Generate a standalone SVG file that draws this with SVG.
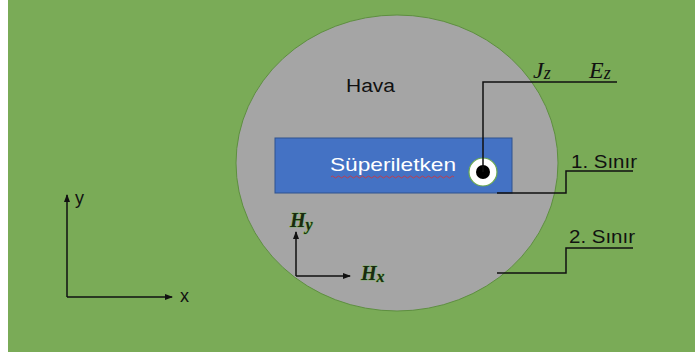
<svg xmlns="http://www.w3.org/2000/svg" width="695" height="352" viewBox="0 0 695 352">
<defs>
<style>
.lbl{font-family:"Liberation Sans","Open Sans",sans-serif;font-size:18px;fill:#111}
.math{font-family:"Liberation Serif","DejaVu Serif",serif;font-style:italic;fill:#111}
.hm{font-family:"Liberation Serif","DejaVu Serif",serif;font-style:italic;font-weight:bold;fill:#1a2a10;stroke:#5fb53a;stroke-width:0.7;paint-order:stroke}
.ln{fill:none;stroke:#111;stroke-width:1.5}
</style>
<marker id="ah" markerWidth="8" markerHeight="8" refX="7" refY="4" orient="auto" markerUnits="userSpaceOnUse">
<path d="M0,1 L8,4 L0,7 Z" fill="#111"/>
</marker>
</defs>
<rect x="0" y="0" width="695" height="352" fill="#ffffff"/>
<rect x="8" y="0" width="687" height="352" fill="#7aab57"/>
<g id="hava">
<ellipse cx="397" cy="163" rx="161" ry="148" fill="#a5a5a5" stroke="#5e8f40" stroke-width="1"/>
<text class="lbl" x="346" y="92" font-size="18" textLength="49" lengthAdjust="spacingAndGlyphs">Hava</text>
</g>
<g id="superiletken">
<rect x="275" y="138" width="237" height="55" fill="#4472c4" stroke="#2f528f" stroke-width="1"/>
<text x="330" y="171" textLength="126" lengthAdjust="spacingAndGlyphs" style="font-family:'Liberation Sans','Open Sans',sans-serif;font-size:19px;fill:#ffffff">Süperiletken</text>
<path d="M331,177 q1.5,-2 3,0 t3,0 t3,0 t3,0 t3,0 t3,0 t3,0 t3,0 t3,0 t3,0 t3,0 t3,0 t3,0 t3,0 t3,0 t3,0 t3,0 t3,0 t3,0 t3,0 t3,0 t3,0 t3,0 t3,0 t3,0 t3,0 t3,0 t3,0 t3,0 t3,0 t3,0 t3,0 t3,0 t3,0 t3,0 t3,0 t3,0 t3,0 t3,0 t3,0 t3,0" fill="none" stroke="#e03030" stroke-width="0.8"/>
</g>
<g id="kaynak">
<circle cx="483" cy="172" r="14" fill="#ffffff" stroke="#6aa84f" stroke-width="1.2"/>
<circle cx="483" cy="172" r="7" fill="#000000"/>
</g>
<g id="connectors">
<polyline class="ln" points="483,172 483,82 617,82"/>
<polyline class="ln" points="497,193 566,193 566,171 633,171"/>
<polyline class="ln" points="497,273 566,273 566,248 633,248"/>
<line class="ln" x1="67" y1="297" x2="67" y2="195" marker-end="url(#ah)"/>
<line class="ln" x1="67" y1="297" x2="172" y2="297" marker-end="url(#ah)"/>
<line class="ln" x1="296" y1="276" x2="296" y2="232" marker-end="url(#ah)" stroke-width="2"/>
<line class="ln" x1="296" y1="276" x2="350" y2="276" marker-end="url(#ah)" stroke-width="2"/>
</g>
<g id="labels">
<text class="math" x="533" y="78" font-size="24">J<tspan font-size="18" dy="1">z</tspan></text>
<text class="math" x="589" y="78" font-size="24">E<tspan font-size="18" dy="1">z</tspan></text>
<text class="lbl" x="571" y="168" textLength="66" lengthAdjust="spacingAndGlyphs">1. Sınır</text>
<text class="lbl" x="569" y="243" textLength="66" lengthAdjust="spacingAndGlyphs">2. Sınır</text>
<text class="hm" x="290" y="227" font-size="20">H<tspan font-size="16" dy="3">y</tspan></text>
<text class="hm" x="361" y="280" font-size="20">H<tspan font-size="16" dy="2">x</tspan></text>
<text class="lbl" x="75" y="204" font-size="17">y</text>
<text class="lbl" x="180" y="302" font-size="17">x</text>
</g>
</svg>
